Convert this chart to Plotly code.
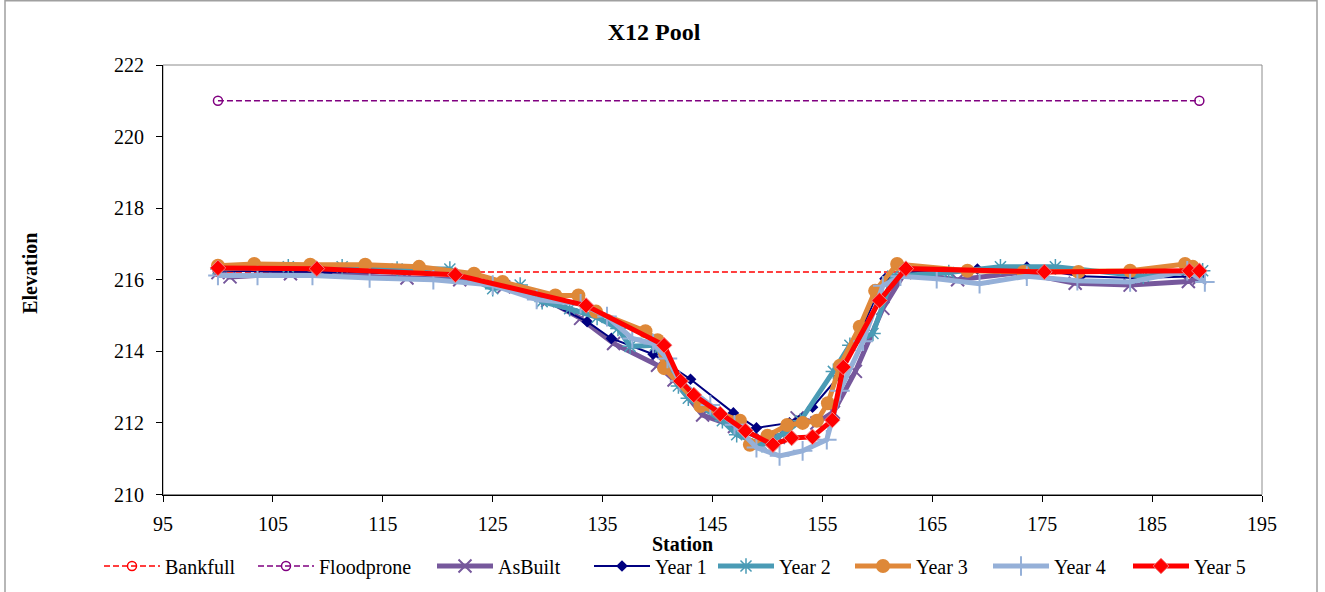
import plotly.graph_objects as go

# ---------------- data ----------------
bank_x = [100.0, 189.3]
bank_y = [216.22, 216.22]
flood_x = [100.0, 189.3]
flood_y = [221.0, 221.0]

asb_x = [100.0, 101.1, 106.6, 117.2, 122.0, 126.0, 130.0, 133.0, 136.0, 140.0, 141.5, 144.1, 147.0,
         149.5, 151.0, 152.7, 154.5, 156.0, 158.0, 160.5, 162.5, 167.3, 173.0, 178.0, 183.0, 188.3, 189.3]
asb_y = [216.2, 216.08, 216.17, 216.05, 216.0, 215.8, 215.42, 214.92, 214.22, 213.61, 213.2, 212.22, 211.9,
         211.55, 211.6, 212.14, 212.0, 212.3, 213.44, 215.2, 216.2, 216.0, 216.2, 215.9, 215.85, 215.95, 216.05]

y1_x = [100.0, 110.0, 121.6, 129.5, 133.6, 135.8, 139.6, 143.0, 146.9, 149.0, 152.0, 154.1, 156.5,
        158.5, 160.7, 163.6, 169.1, 173.6, 178.5, 183.5, 189.3]
y1_y = [216.25, 216.22, 216.15, 215.45, 214.83, 214.36, 213.92, 213.22, 212.28, 211.86, 212.0, 212.44, 213.3,
        214.6, 216.03, 216.22, 216.3, 216.35, 216.1, 216.05, 216.1]

y2_x = [100.0, 106.4, 111.3, 116.3, 121.1, 125.0, 127.5, 129.5, 132.0, 134.5, 136.4, 137.5, 139.8, 141.9,
        142.8, 145.9, 147.2, 149.5, 151.5, 153.0, 156.0, 157.5, 159.6, 161.4, 166.5, 171.2, 176.2, 184.2, 189.6]
y2_y = [216.3, 216.36, 216.36, 216.3, 216.3, 215.75, 215.85, 215.39, 215.19, 214.95, 214.64, 214.14, 214.17, 213.03,
        212.69, 212.06, 211.67, 211.39, 211.7, 212.06, 213.44, 214.17, 214.5, 216.1, 216.2, 216.36, 216.36, 216.1, 216.25]

y3_x = [100.0, 103.3, 108.4, 113.4, 118.3, 123.3, 125.9, 130.7, 132.8, 134.4, 138.9, 140.0, 140.6, 143.9,
        147.5, 148.4, 150.0, 151.8, 153.2, 154.5, 155.5, 156.6, 158.4, 159.8, 161.8, 168.2, 173.3, 178.3,
        183.0, 188.0, 188.7]
y3_y = [216.39, 216.44, 216.42, 216.42, 216.36, 216.17, 215.94, 215.56, 215.56, 215.11, 214.56, 214.31, 213.53, 212.47,
        212.06, 211.39, 211.64, 211.94, 212.0, 212.06, 212.55, 213.6, 214.69, 215.69, 216.44, 216.25, 216.22, 216.22,
        216.25, 216.44, 216.36]

y4_x = [100.0, 103.6, 108.6, 113.8, 119.6, 125.0, 129.0, 133.0, 135.4, 137.7, 139.6, 140.9, 142.0, 144.8,
        147.0, 149.0, 151.1, 153.2, 155.4, 156.6, 158.7, 160.5, 162.1, 165.4, 169.3, 173.6, 178.2, 183.0, 188.2, 189.8]
y4_y = [216.12, 216.12, 216.12, 216.05, 216.0, 215.85, 215.45, 215.33, 214.97, 214.36, 214.22, 213.8, 213.17, 212.5,
        211.95, 211.31, 211.08, 211.22, 211.53, 212.9, 214.28, 215.83, 216.1, 216.03, 215.89, 216.1, 215.97, 215.94, 216.25, 215.94]

y5_x = [100.0, 109.0, 121.6, 133.5, 140.6, 142.1, 143.3, 145.7, 148.0, 150.5, 152.2, 154.1, 155.9, 156.9,
        160.2, 162.6, 175.2, 188.4, 189.3]
y5_y = [216.33, 216.31, 216.14, 215.28, 214.17, 213.17, 212.78, 212.25, 211.78, 211.39, 211.58, 211.61, 212.08, 213.56,
        215.42, 216.31, 216.22, 216.25, 216.25]

x_ticks = [95, 105, 115, 125, 135, 145, 155, 165, 175, 185, 195]
y_ticks = [210, 212, 214, 216, 218, 220, 222]

series_names = ["Bankfull", "Floodprone", "AsBuilt", "Year 1", "Year 2", "Year 3", "Year 4", "Year 5"]
legend_left_px = [104, 258, 437, 594, 718, 855, 993, 1133]

FONT = "Liberation Serif"

fig = go.Figure()
styles = [
    (bank_x, bank_y, dict(color="#FF0000", width=1.5, dash="6px,3px"),
     dict(symbol="circle-open", size=9, color="#FF0000", line=dict(width=1.5))),
    (flood_x, flood_y, dict(color="#800080", width=1.5, dash="6px,3px"),
     dict(symbol="circle-open", size=9, color="#800080", line=dict(width=1.5))),
    (asb_x, asb_y, dict(color="#76589C", width=5),
     dict(symbol="x-thin-open", size=13, color="#76589C", line=dict(width=2, color="#76589C"))),
    (y1_x, y1_y, dict(color="#000080", width=2),
     dict(symbol="diamond", size=9, color="#000080")),
    (y2_x, y2_y, dict(color="#4A9BB5", width=5),
     dict(symbol="asterisk-open", size=13, color="#4A9BB5", line=dict(width=1.5, color="#4A9BB5"))),
    (y3_x, y3_y, dict(color="#E0883A", width=5),
     dict(symbol="circle", size=14, color="#DE8838")),
    (y4_x, y4_y, dict(color="#95B0D8", width=5),
     dict(symbol="cross-thin-open", size=14, color="#95B0D8", line=dict(width=2, color="#95B0D8"))),
    (y5_x, y5_y, dict(color="#FF0000", width=5),
     dict(symbol="diamond", size=12, color="#FF0000", line=dict(width=1, color="#F08080"))),
]

legend_layout = {}
for i, (name, (xs, ys, ln, mk)) in enumerate(zip(series_names, styles)):
    lid = "legend" if i == 0 else f"legend{i + 1}"
    fig.add_trace(go.Scatter(x=xs, y=ys, name=name, mode="lines+markers", line=ln, marker=mk, legend=lid))
    legend_layout[lid] = dict(
        xref="container", yref="container", x=(legend_left_px[i] - 5) / 1325, y=1 - 566 / 592,
        xanchor="left", yanchor="middle", orientation="h", itemwidth=56,
        font=dict(size=20, family=FONT, color="black"), bgcolor="rgba(0,0,0,0)", borderwidth=0)

fig.update_layout(
    width=1325, height=592,
    margin=dict(l=163, r=63, t=65, b=95),
    paper_bgcolor="white", plot_bgcolor="white",
    font=dict(family=FONT, size=20, color="black"),
    showlegend=True,
    title=dict(text="<b>X12 Pool</b>", x=0.4936, xref="container", xanchor="center",
               y=1 - 32 / 592, yref="container", yanchor="middle",
               font=dict(size=24, family=FONT, color="black")),
    xaxis=dict(range=[95, 195], tickvals=x_ticks, ticks="outside", ticklen=6, tickcolor="black",
               showgrid=False, zeroline=False, showline=True, linecolor="black", linewidth=1,
               ticklabelstandoff=5, tickfont=dict(size=20, family=FONT)),
    yaxis=dict(range=[210, 222], tickvals=y_ticks, ticks="outside", ticklen=6, tickcolor="black",
               showgrid=False, zeroline=False, showline=True, linecolor="black", linewidth=1,
               ticklabelstandoff=8, tickfont=dict(size=20, family=FONT)),
    shapes=[
        dict(type="rect", xref="paper", yref="paper", x0=0, x1=1, y0=0, y1=1,
             line=dict(color="#8C8C8C", width=1), layer="below"),
        dict(type="rect", xref="paper", yref="paper", x0=(5 - 163) / 1099, x1=(1317 - 163) / 1099,
             y0=(497 - 600) / 432, y1=(497 - 0.5) / 432, line=dict(color="#A0A0A0", width=1.5), layer="below"),
    ],
    annotations=[
        dict(text="<b>Station</b>", xref="paper", yref="paper", x=(682 - 163) / 1099, y=(497 - 547) / 432,
             xanchor="center", yanchor="middle", showarrow=False, font=dict(size=20, family=FONT)),
        dict(text="<b>Elevation</b>", xref="paper", yref="paper", x=(30 - 163) / 1099, y=(497 - 275) / 432,
             xanchor="center", yanchor="middle", textangle=-90, showarrow=False, font=dict(size=20, family=FONT)),
    ],
)
fig.update_layout(**legend_layout)

fig.write_html("out.html")
